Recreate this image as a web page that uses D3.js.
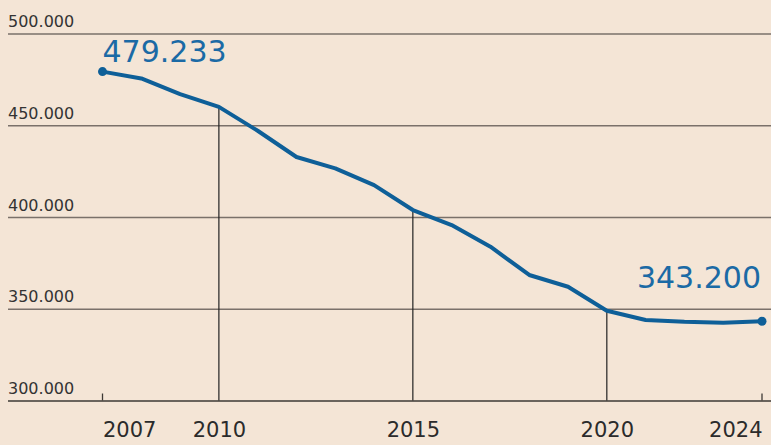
<!DOCTYPE html>
<html>
<head>
<meta charset="utf-8">
<script src="https://cdn.jsdelivr.net/npm/d3@7"></script>
<style>
  html, body { margin: 0; padding: 0; background: #f4e5d6; }
  svg { display: block; }
</style>
</head>
<body>
<div id="chart"></div>
<script>
// data
var years = [2007, 2008, 2009, 2010, 2011, 2012, 2013, 2014, 2015, 2016, 2017, 2018, 2019, 2020, 2021, 2022, 2023, 2024];
var values = [479233, 475500, 467000, 460000, 447000, 432700, 426500, 417400, 403800, 395600, 383800, 368400, 362000, 348900, 343900, 342900, 342400, 343200];
var yTicks = [300000, 350000, 400000, 450000, 500000];
var xTicks = [2007, 2010, 2015, 2020, 2024];
var dropYears = [2010, 2015, 2020];

var width = 771, height = 445;

var svg = d3.select("#chart")
            .append("svg")
            .attr("width", width)
            .attr("height", height)
            .style("background", "#f4e5d6");

var x = d3.scaleLinear().domain([2007, 2024]).range([102.5, 762]);
var y = d3.scaleLinear().domain([300000, 500000]).range([400.5, 33.5]);

var data = years.map((d, i) => ({year: d, value: values[i]}));

var loc = d3.formatLocale({decimal: ",", thousands: ".", grouping: [3], currency: ["", ""]});
var fmt = loc.format(",");

// horizontal grid + labels
var yAxis = svg.append("g")
    .attr("transform", "translate(8,0)")
    .call(d3.axisRight(y).tickValues(yTicks).tickSize(width - 8).tickFormat(fmt));
yAxis.select(".domain").remove();
yAxis.selectAll(".tick line")
    .attr("stroke", d => d === 300000 ? "#3d3935" : "#7a716a")
    .attr("stroke-width", 1.4);
yAxis.selectAll(".tick text")
    .attr("x", 0)
    .attr("dy", 0)
    .attr("y", -7)
    .attr("text-anchor", "start")
    .attr("fill", "#333")
    .attr("font-family", "DejaVu Sans")
    .attr("font-size", 16);

// x labels
var xAxis = svg.append("g")
    .attr("transform", `translate(0,${y(300000)})`)
    .call(d3.axisBottom(x).tickValues(xTicks).tickSize(0).tickFormat(d3.format("d")));
xAxis.select(".domain").remove();
xAxis.selectAll(".tick text")
    .attr("y", 36)
    .attr("dy", 0)
    .attr("fill", "#2b2b2b")
    .attr("font-family", "DejaVu Sans")
    .attr("font-size", 21)
    .attr("text-anchor", d => d === 2007 ? "start" : d === 2024 ? "end" : "middle");

// small ticks at the ends
svg.append("g")
    .selectAll("line")
    .data([2007, 2024])
    .join("line")
    .attr("x1", d => x(d)).attr("x2", d => x(d))
    .attr("y1", y(300000) - 7).attr("y2", y(300000))
    .attr("stroke", "#3d3935")
    .attr("stroke-width", 1.3);

// drop lines
svg.append("g")
    .selectAll("line")
    .data(data.filter(d => dropYears.includes(d.year)))
    .join("line")
    .attr("x1", d => x(d.year)).attr("x2", d => x(d.year))
    .attr("y1", d => y(d.value)).attr("y2", y(300000))
    .attr("stroke", "#222")
    .attr("stroke-width", 1.2);

// the line
var line = d3.line().x(d => x(d.year)).y(d => y(d.value));
svg.append("path")
    .datum(data)
    .attr("d", line)
    .attr("fill", "none")
    .attr("stroke", "#0e5f98")
    .attr("stroke-width", 4)
    .attr("stroke-linejoin", "round");

var ends = [data[0], data[data.length - 1]];
svg.append("g")
    .selectAll("circle")
    .data(ends)
    .join("circle")
    .attr("cx", d => x(d.year))
    .attr("cy", d => y(d.value))
    .attr("r", 4.5)
    .attr("fill", "#0e5f98");

svg.append("g")
    .selectAll("text")
    .data(ends)
    .join("text")
    .attr("x", (d, i) => i === 0 ? x(d.year) : x(d.year) - 1)
    .attr("y", (d, i) => i === 0 ? 62 : 288)
    .attr("text-anchor", (d, i) => i === 0 ? "start" : "end")
    .attr("fill", "#1b6aa5")
    .attr("font-family", "DejaVu Sans")
    .attr("font-size", 30)
    .text(d => fmt(d.value));
</script>
</body>
</html>
